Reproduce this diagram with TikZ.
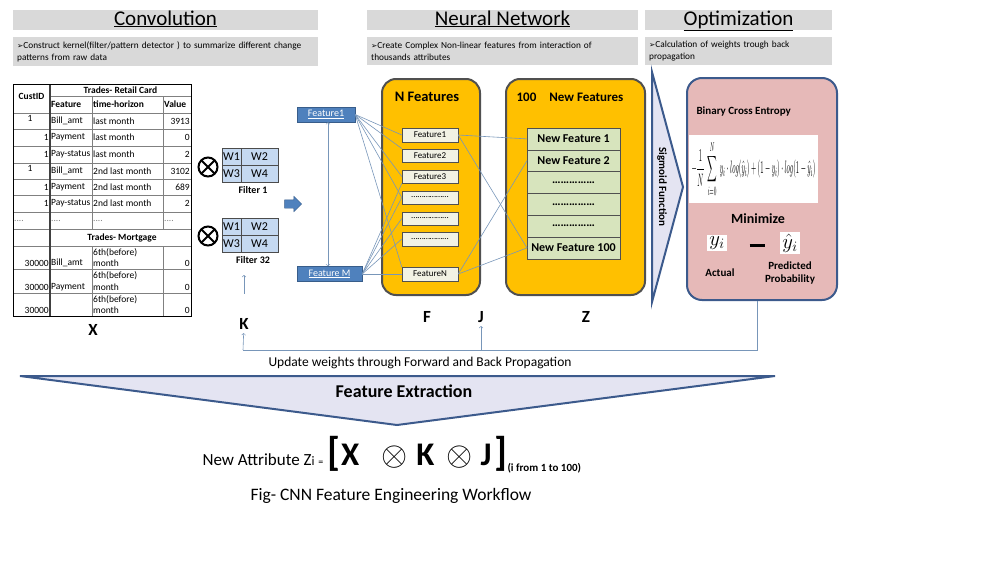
\documentclass[tikz,border=0pt]{standalone}
\usepackage{fontspec}
\setmainfont{Carlito}
\newfontfamily\symfont{DejaVu Sans}
\usetikzlibrary{positioning,shapes.arrows}

\definecolor{hdrgray}{RGB}{217,217,217}
\definecolor{boxblue}{RGB}{79,129,189}
\definecolor{darkblue}{RGB}{56,93,138}
\definecolor{navy}{RGB}{60,90,140}
\definecolor{gold}{RGB}{255,192,0}
\definecolor{rimgray}{RGB}{80,80,80}
\definecolor{cream}{RGB}{242,242,228}
\definecolor{leaf}{RGB}{215,228,189}
\definecolor{rose}{RGB}{230,185,184}
\definecolor{lilac}{RGB}{228,228,242}
\definecolor{wireblue}{RGB}{120,150,185}
\definecolor{cellblue}{RGB}{197,217,241}

\newcommand\fsz[2]{\fontsize{#1}{#2}\selectfont}
\newcommand\bul{{\symfont\fsz{7.5}{7.5}➢}}
\newcommand\bigot{\scalebox{1.35}{\fsz{24}{24}$\otimes$}}

\tikzset{
  hdr/.style={fill=hdrgray, minimum height=20pt, inner sep=0pt, text height=14pt, text depth=4pt, font=\fsz{21}{22}},
  subbar/.style={fill=hdrgray, anchor=north west, minimum height=28pt, inner sep=4pt, align=left, font=\fsz{9.3}{12}},
  tabtxt/.style={inner sep=1pt, font=\fsz{9.5}{11.5}},
  wcell/.style={draw=black!70, fill=cellblue, minimum height=17pt, inner sep=0pt, outer sep=0pt, font=\fsz{12}{12}},
  fbox/.style={draw=darkblue, fill=boxblue, text=white, minimum height=15pt, inner sep=1pt, font=\fsz{10}{10}},
  panel/.style={draw=rimgray, line width=2pt, fill=gold, rounded corners=14pt, minimum height=216pt},
  nf/.style={draw=rimgray, fill=cream, minimum width=56pt, minimum height=13.5pt, inner sep=0pt, font=\fsz{9}{9}},
  nz/.style={draw=rimgray, fill=leaf, minimum width=93pt, minimum height=21.8pt, inner sep=0pt, outer sep=0pt, font=\bfseries\fsz{12}{12}},
  wire/.style={draw=wireblue, line width=0.6pt},
  lbl/.style={font=\bfseries\fsz{17}{17}},
  crossring/.style={circle, draw, line width=2pt, minimum size=19pt, inner sep=0pt, outer sep=0pt},
}

\begin{document}
\begin{tikzpicture}[x=1pt,y=-1pt]
\useasboundingbox (0,0) rectangle (1000,562);

\node[hdr, minimum width=305pt] (h1) at (165.5,20) {\underline{Convolution}};
\node[hdr, minimum width=271pt] (h2) at (502.5,20) {\underline{Neural Network}};
\node[hdr, minimum width=187pt] (h3) at (738.5,20) {\underline{Optimization}};

\node[subbar, text width=297pt] (s1) at (13,37) {\bul Construct kernel(filter/pattern detector ) to summarize different change\\patterns from raw data};
\node[subbar, text width=263pt] (s2) at (367,37) {\bul Create Complex Non-linear features from interaction of\\thousands attributes};
\node[subbar, text width=179pt] (s3) at (645,37) {\bul Calculation of weights trough back\\propagation};

\foreach \y in {113,129,146,163,179,195,212,229,246,269,293}
  \draw[gray, line width=0.6pt] (13,\y) -- (191,\y);
\draw[gray, line width=0.6pt] (50,96) -- (191,96);
\draw[gray, line width=0.6pt] (92,96) -- (92,229) (163,96) -- (163,229) (92,246) -- (92,316) (163,246) -- (163,316);
\draw[black!75, line width=1.2pt] (50,84) -- (50,316);
\draw[black, line width=0.8pt] (13,84) rectangle (191,316);

\begin{scope}[every node/.style={tabtxt}]
  \node (c0) at (31.5,96) {\bfseries CustID};
  \node (c1) at (120.5,90) {\bfseries Trades- Retail Card};
  \node[anchor=west] (c2) at (50,104.5) {\bfseries Feature};
  \node[anchor=west] (c3) at (92,104.5) {\bfseries time-horizon};
  \node[anchor=west] (c4) at (163,104.5) {\bfseries Value};

  \node (a1) at (30,118) {1};
  \node[anchor=west] (b1) at (50,121) {Bill\_amt};
  \node[anchor=west] (t1) at (92,121) {last month};
  \node[anchor=east] (v1) at (191,121) {3913};

  \node[anchor=east] (a2) at (50,137.5) {1};
  \node[anchor=west] (b2) at (50,137.5) {Payment};
  \node[anchor=west] (t2) at (92,137.5) {last month};
  \node[anchor=east] (v2) at (191,137.5) {0};

  \node[anchor=east] (a3) at (50,154.5) {1};
  \node[anchor=west] (b3) at (50,154.5) {Pay-status};
  \node[anchor=west] (t3) at (92,154.5) {last month};
  \node[anchor=east] (v3) at (191,154.5) {2};

  \node (a4) at (30,168) {1};
  \node[anchor=west] (b4) at (50,171) {Bill\_amt};
  \node[anchor=west] (t4) at (92,171) {2nd last month};
  \node[anchor=east] (v4) at (191,171) {3102};

  \node[anchor=east] (a5) at (50,187) {1};
  \node[anchor=west] (b5) at (50,187) {Payment};
  \node[anchor=west] (t5) at (92,187) {2nd last month};
  \node[anchor=east] (v5) at (191,187) {689};

  \node[anchor=east] (a6) at (50,203.5) {1};
  \node[anchor=west] (b6) at (50,203.5) {Pay-status};
  \node[anchor=west] (t6) at (92,203.5) {2nd last month};
  \node[anchor=east] (v6) at (191,203.5) {2};

  \node[anchor=west, text=gray] (d1) at (13,220.5) {....};
  \node[anchor=west, text=gray] (d2) at (50,220.5) {....};
  \node[anchor=west, text=gray] (d3) at (92,220.5) {....};
  \node[anchor=west, text=gray] (d4) at (163,220.5) {....};

  \node (c5) at (122,237.5) {\bfseries Trades- Mortgage};

  \node[anchor=east] (a7) at (50,263) {30000};
  \node[anchor=west] (b7) at (50,263) {Bill\_amt};
  \node[anchor=west, align=left] (t7) at (92,257.5) {6th(before)\\month};
  \node[anchor=east] (v7) at (191,263) {0};

  \node[anchor=east] (a8) at (50,287) {30000};
  \node[anchor=west] (b8) at (50,287) {Payment};
  \node[anchor=west, align=left] (t8) at (92,281) {6th(before)\\month};
  \node[anchor=east] (v8) at (191,287) {0};

  \node[anchor=east] (a9) at (50,310) {30000};
  \node[anchor=west, align=left] (t9) at (92,304.5) {6th(before)\\month};
  \node[anchor=east] (v9) at (191,310) {0};
\end{scope}

\node[crossring] (o1) at (208,167) {};
\draw[line width=2pt] (o1.45) -- (o1.225) (o1.135) -- (o1.315);
\node[wcell, minimum width=19pt] (w11) at (231.5,156.5) {W1};
\node[wcell, minimum width=37pt, right=0pt of w11] (w12) {W2};
\node[wcell, minimum width=19pt, below=0pt of w11] (w13) {W3};
\node[wcell, minimum width=37pt, below=0pt of w12] (w14) {W4};
\node[font=\bfseries\fsz{10}{10}] (f1) at (253,190) {Filter 1};

\node[crossring] (o2) at (208,236) {};
\draw[line width=2pt] (o2.45) -- (o2.225) (o2.135) -- (o2.315);
\node[wcell, minimum width=19pt] (w21) at (231.5,226.5) {W1};
\node[wcell, minimum width=37pt, right=0pt of w21] (w22) {W2};
\node[wcell, minimum width=19pt, below=0pt of w21] (w23) {W3};
\node[wcell, minimum width=37pt, below=0pt of w22] (w24) {W4};
\node[font=\bfseries\fsz{10}{10}] (f32) at (253,260) {Filter 32};

\node[single arrow, fill=boxblue, draw=darkblue, minimum height=17pt, text height=8pt, text depth=0pt, text width=0pt, single arrow head extend=3.5pt, inner sep=0pt] (push) at (291,204) {};

\node[fbox, minimum width=58pt] (fa) at (326,114.5) {\underline{Feature1}};
\node[fbox, minimum width=65pt] (fm) at (329.5,274) {\underline{Feature M}};

\node[panel, minimum width=98pt] (F0) at (431,187) {};
\node[panel, minimum width=139pt] (Z0) at (575.5,187) {};
\node[font=\bfseries\fsz{14.5}{15}] (nft) at (427,97) {N Features};
\node[font=\bfseries\fsz{13}{13}] (zft) at (570,97) {100\quad New Features};

\begin{scope}[every node/.style={nf}]
  \node (n1) at (430,135) {Feature1};
  \node (n2) at (430,155.5) {Feature2};
  \node (n3) at (430,176.5) {Feature3};
  \node (n4) at (430,197.5) {………………};
  \node (n5) at (430,218.5) {………………};
  \node (n6) at (430,239) {………………};
  \node (n7) at (430,274) {FeatureN};
\end{scope}

\begin{scope}[every node/.style={nz}]
  \node (z1) at (573.5,138.9) {New Feature 1};
  \node[below=0pt of z1] (z2) {New Feature 2};
  \node[below=0pt of z2] (z3) {……………};
  \node[below=0pt of z3] (z4) {……………};
  \node[below=0pt of z4] (z5) {……………};
  \node[below=0pt of z5] (z6) {New Feature 100};
\end{scope}

\begin{scope}[every edge/.style={wire}]
  \path (fa.east) edge (n1.west) edge (n2.north west) edge (n3.west) edge (n4.west) edge (n7.north west);
  \path (fm.east) edge (n3.south west) edge (n4.west) edge (n5.west) edge (n6.west) edge (n7.west);
  \path (n1.east) edge (z1.west) edge (z6.west);
  \path (n7.east) edge (z2.west) edge (z6.west);
\end{scope}
\draw[wire,<->] ([xshift=2pt]fa.south) -- ([xshift=-1.5pt]fm.north);

\draw[fill=lilac, draw=navy, line width=2pt] (652,72) -- (683,187) -- (652,302) -- cycle;
\node[rotate=-90, font=\bfseries\fsz{11}{11}] (sig) at (662,187) {Sigmoid Function};

\node[draw=navy, line width=2pt, fill=rose, rounded corners=15pt, minimum width=150pt, minimum height=222pt] (opt) at (762,189) {};
\node[anchor=west, font=\bfseries\fsz{11}{11}] (bce) at (693,112) {Binary Cross Entropy};
\node[fill=white, minimum width=129pt, minimum height=68pt, inner sep=0pt] (ce) at (753.5,169) {\resizebox*{124pt}{56pt}{$\displaystyle -\frac{1}{N}\;\sum_{i=0}^{N}\; y_i\cdot log(\hat{y}_i)+(1-y_i)\cdot log(1-\hat{y}_i)$}};
\node[font=\bfseries\fsz{14}{14}] (mini) at (758,219) {Minimize};
\node[fill=white, inner sep=2pt, font=\fsz{22}{22}] (ya) at (717,243) {$y_i$};
\node[inner sep=0pt] (minus) at (757,245) {\rule{15pt}{3pt}};
\node[fill=white, inner sep=2pt, font=\fsz{22}{22}] (yp) at (790,243) {$\hat{y}_i$};
\node[font=\bfseries\fsz{11}{11}] (act) at (720,273) {Actual};
\node[align=center, font=\bfseries\fsz{11}{13.5}] (pred) at (790,273) {Predicted\\Probability};

\node[lbl] (X) at (93,330) {X};
\node[lbl] (K) at (244,324) {K};
\node[lbl] (F) at (427,317) {F};
\node[lbl] (J) at (481,317) {J};
\node[lbl] (Z) at (586,317) {Z};

\coordinate (ub) at (757,350);
\coordinate (uk) at (243,350);
\draw[wire] ([xshift=-5pt]opt.south) -- (ub) -- (uk);
\draw[wire,->] (uk) -- (K);
\draw[wire,->] (uk -| J) -- (J);
\draw[wire,->,shorten <=21pt,shorten >=8pt] (K.north) -- (K.north |- f32.south);
\node[font=\fsz{13.5}{13.5}] (upd) at (420,363) {Update weights through Forward and Back Propagation};

\draw[fill=lilac, draw=navy, line width=2pt] (20,376) -- (775,376) -- (397,425) -- cycle;
\node[font=\bfseries\fsz{18}{18}] (fx) at (404,391) {Feature Extraction};

\node[anchor=west] (na) at (199,455) {\fsz{17}{17}New Attribute Z{\fsz{13}{13}i} {\fsz{10}{10}=} {\bfseries\fsz{40}{40}[}\hspace{1pt}{\bfseries\fsz{33}{33}X}\hspace{22pt}\bigot\hspace{9pt}{\bfseries\fsz{33}{33}K}\hspace{12pt}\bigot\hspace{8pt}{\bfseries\fsz{33}{33}J}\hspace{3pt}{\bfseries\fsz{40}{40}]}\raisebox{-6pt}{\bfseries\fsz{11}{11}(i from 1 to 100)}};
\node[font=\fsz{17.5}{18}] (cap) at (391,496) {Fig- CNN Feature Engineering Workflow};
\end{tikzpicture}
\end{document}
